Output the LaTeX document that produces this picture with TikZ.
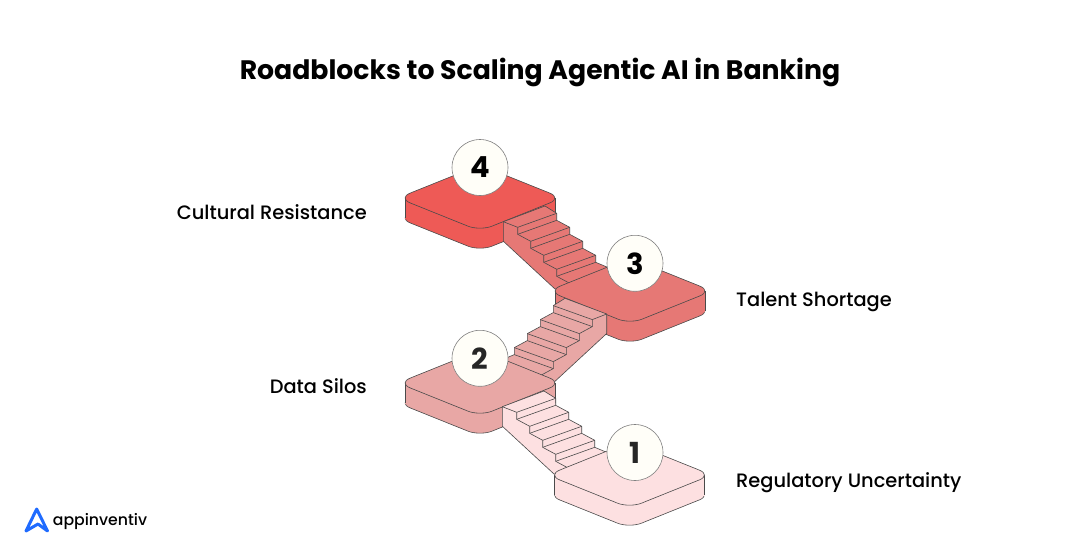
\documentclass[tikz,border=0pt]{standalone}
\usepackage{fontspec}
\setmainfont{Poppins}[UprightFont=* Medium,BoldFont=* Bold]
\usepackage{tikz}
\usetikzlibrary{positioning}
\definecolor{edgegray}{HTML}{4A4A4A}
\definecolor{platfour}{HTML}{EE5A56}
\definecolor{platthree}{HTML}{E67875}
\definecolor{plattwo}{HTML}{E8A7A5}
\definecolor{platone}{HTML}{FDE0E1}
\definecolor{logoblue}{HTML}{1F6BFF}
\definecolor{badgefill}{HTML}{FFFEF8}
\tikzset{
	edge/.style={draw=edgegray,line width=.6pt,line join=round},
	badge/.style={circle,draw=gray,fill=badgefill,line width=.6pt,minimum size=56pt,inner sep=0pt,font=\fontsize{29}{29}\selectfont\bfseries},
	steplabel/.style={font=\fontsize{19.4}{20}\selectfont,inner sep=0pt}
}
% one platform: centre x, centre y, colour
\newcommand{\platform}[3]{
	\path[edge,fill=#3,rounded corners=13pt] (#1-82,#2+20) -- (#1,#2-13) -- (#1+82,#2+20) -- (#1,#2+53) -- cycle;
	\fill[#3] (#1-75,#2) rectangle (#1+75,#2+21);
	\draw[edge] (#1-75,#2) -- (#1-75,#2+20);
	\draw[edge] (#1+75,#2) -- (#1+75,#2+20);
	\path[edge,fill=#3,rounded corners=13pt] (#1-82,#2) -- (#1,#2-33) -- (#1+82,#2) -- (#1,#2+33) -- cycle;
}
% one flight, drawn from its upper corner
\newcommand{\flight}[1]{
	\path[edge,fill=#1] (0,0) -- (41.7,-15.7) -- (53.4,-8.4) -- (53.4,-1.4) -- (66.4,5.6) -- (66.4,12.6)
		-- (79.4,19.6) -- (79.4,26.6) -- (92.4,33.6) -- (92.4,40.6) -- (110,48) -- (72,68) -- (51.7,67.3) -- (0,19.5) -- cycle;
	\draw[edge] (0,0) -- (14.4,5.6);
	\foreach \i in {0,...,3} {
		\draw[edge] (14.4+13*\i,5.6+14*\i) -- (53.4+13*\i,-8.4+14*\i);
		\draw[edge] (14.4+13*\i,12.6+14*\i) -- (53.4+13*\i,-1.4+14*\i);
		\draw[edge] (14.4+13*\i,5.6+14*\i) -- (14.4+13*\i,12.6+14*\i) -- (27.4+13*\i,19.6+14*\i);
	}
}
\begin{document}
\begin{tikzpicture}[x=1pt,y=-1pt]
	\useasboundingbox[fill=white] (0,0) rectangle (1080,558);
	% platforms and flights, back to front
	\platform{480}{198}{platfour}
	\begin{scope}[shift={(503.3,221.7)}]
		\flight{platthree}
	\end{scope}
	\platform{630}{291}{platthree}
	\begin{scope}[shift={(606.7,314)},xscale=-1]
		\flight{plattwo}
	\end{scope}
	\platform{480}{383}{plattwo}
	\begin{scope}[shift={(502.3,406.7)}]
		\flight{platone}
	\end{scope}
	\platform{629.5}{475}{platone}
	% numbers
	\node[badge] (four) at (480,167.5) {4};
	\node[badge] (three) at (635,263.3) {3};
	\node[badge,text=black!85] (two) at (480,358.3) {2};
	\node[badge,text=black!85] (one) at (635,452.5) {1};
	% labels
	\node[font=\fontsize{26.7}{30}\selectfont\bfseries,inner sep=0pt,anchor=base] (title) at (540,79) {Roadblocks to Scaling Agentic AI in Banking};
	\node[steplabel,anchor=base east] (resist) at (367,219) {Cultural Resistance};
	\node[steplabel,anchor=base west] (talent) at (736,306) {Talent Shortage};
	\node[steplabel,anchor=base east] (silos) at (367,393) {Data Silos};
	\node[steplabel,anchor=base west] (uncert) at (736,487) {Regulatory Uncertainty};
	% logo
	\draw[logoblue,line width=3pt,line join=round,line cap=round] (26,531) -- (36.7,509) -- (47.5,531) -- (38,524) -- cycle;
	\node[font=\fontsize{15.7}{16}\selectfont,inner sep=0pt,anchor=base west] (logo) at (52.7,525) {appinventiv};
\end{tikzpicture}
\end{document}
